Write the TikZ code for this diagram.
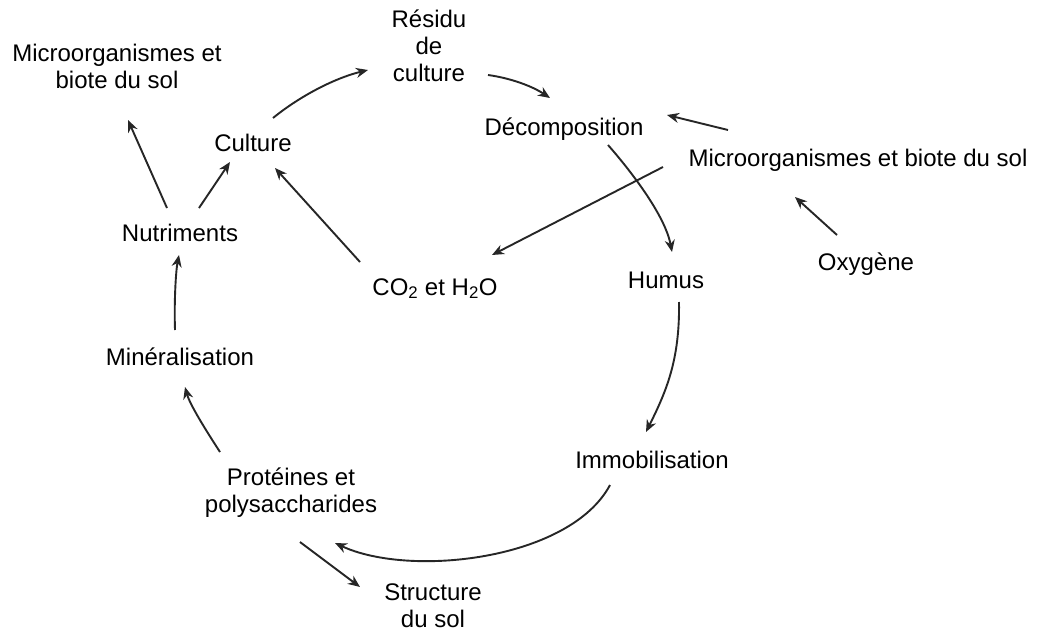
\documentclass[tikz,border=0pt]{standalone}
\usepackage{fontspec}
\setmainfont{Liberation Sans}
\usetikzlibrary{arrows.meta,calc}
\definecolor{ink}{HTML}{262626}
\tikzset{
  lbl/.style={inner sep=0pt, align=center, text=black,
    font=\fontsize{24}{27}\selectfont},
  lbl1/.style={lbl, text height=17pt, text depth=5pt},
  conn/.style={draw=ink, line width=1.9pt, -{Stealth[length=12pt,width=10pt]}}
}
\begin{document}
\begin{tikzpicture}[x=1pt,y=-1pt]
\useasboundingbox[fill=white] (0,0) rectangle (1037,632);
% nodes
\node[lbl] (micL) at (117,66) {Microorganismes et\\biote du sol};
\node[lbl] (res) at (429,46) {Résidu\\de\\culture};
\node[lbl1] (cult) at (253,145) {Culture};
\node[lbl1] (dec) at (564,129) {Décomposition};
\node[lbl1] (micR) at (858,160) {Microorganismes et biote du sol};
\node[lbl1] (oxy) at (866,264) {Oxygène};
\node[lbl1] (hum) at (666,282) {Humus};
\node[lbl1] (co2) at (435,289) {CO\textsubscript{2} et H\textsubscript{2}O};
\node[lbl1] (nut) at (180,235) {Nutriments};
\node[lbl1] (min) at (180,359) {Minéralisation};
\node[lbl1] (immo) at (652,462) {Immobilisation};
\node[lbl] (prot) at (291,493) {Protéines et\\polysaccharides};
\node[lbl] (struct) at (433,606) {Structure\\du sol};
% connectors
\draw[conn] ($(cult)+(20,-27)$) .. controls (300,96) and (335,78) .. ($(res)+(-61,24)$);
\draw[conn] ($(res)+(59,29)$) .. controls (510,78) and (532,86) .. ($(dec)+(-14,-31)$);
\draw[conn] ($(micR)+(-130,-30)$) -- ($(dec)+(103,-14)$);
\draw[conn] ($(micR)+(-195,7)$) -- ($(co2)+(57,-34)$);
\draw[conn] ($(dec)+(44,16)$) .. controls (630,170) and (665,215) .. ($(hum)+(6,-30)$);
\draw[conn] ($(oxy)+(-29,-29)$) -- ($(micR)+(-63,37)$);
\draw[conn] ($(hum)+(13,20)$) .. controls (680,360) and (666,392) .. ($(immo)+(-6,-30)$);
\draw[conn] ($(immo)+(-42,23)$) .. controls (570,560) and (410,578) .. ($(prot)+(44,50)$);
\draw[conn] ($(prot)+(9,49)$) -- ($(struct)+(-73,-19)$);
\draw[conn] ($(prot)+(-71,-41)$) .. controls (207,432) and (190,405) .. ($(min)+(5,28)$);
\draw[conn] ($(min)+(-5,-29)$) .. controls (174,300) and (176,270) .. ($(nut)+(-1,20)$);
\draw[conn] ($(nut)+(-13,-27)$) -- ($(micL)+(11,54)$);
\draw[conn] ($(nut)+(19,-27)$) -- ($(cult)+(-23,17)$);
\draw[conn] ($(co2)+(-75,-27)$) -- ($(cult)+(22,23)$);
\end{tikzpicture}
\end{document}
